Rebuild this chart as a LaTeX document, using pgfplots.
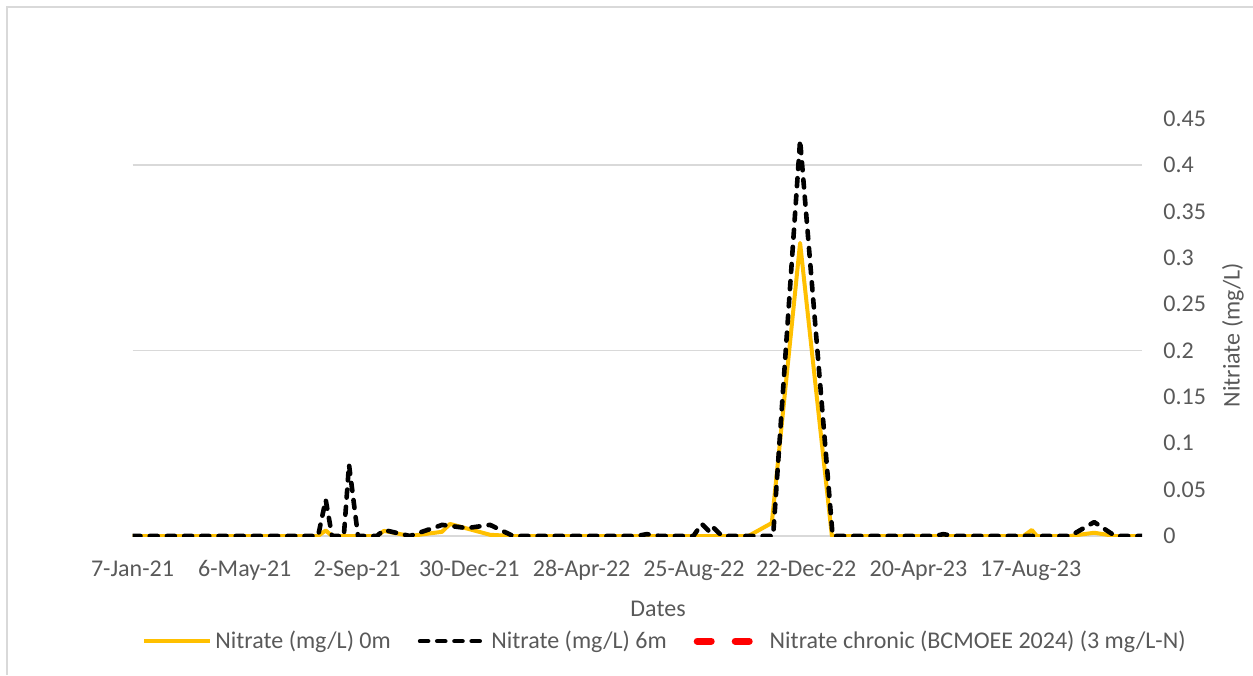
\documentclass[border=0pt]{standalone}
\usepackage{fontspec}
\setmainfont{Carlito}
\usepackage{pgfplots}
\usepackage{pgfplotstable}
\pgfplotsset{compat=1.18}
\definecolor{gold}{HTML}{FFC000}
\definecolor{lblgray}{HTML}{595959}
\definecolor{gridgray}{HTML}{D9D9D9}
\newcommand{\cf}{\fontsize{12}{14}\selectfont}

\pgfplotstableread{
d v
0 0
30 0
60 0
90 0
120 0
150 0
180 0
196.7 0
204.8 0.006
211.5 0
239 0
259 0
266.6 0.0055
294 0
328 0.0045
336.6 0.013
379 0.0013
403 0
450 0
500 0
545 0
600 0
652.8 0
677.6 0.014
707.6 0.316
741.3 0
800 0
859.5 0
900 0
944.3 0
953.2 0.0065
958.5 0
993.8 0
1019.3 0.0035
1041.5 0
1069.9 0
}\surf

\pgfplotstableread{
d v
0 0
30 0
60 0
90 0
120 0
150 0
180 0
196.7 0
204.8 0.039
211.5 0
224 0
229.5 0.077
239 0
259 0
266.6 0.0065
294 0
328.2 0.012
354.6 0.0085
379 0.012
403.4 0
450 0
500 0
534.5 0
545 0.002
559 0
594.5 0
603.4 0.013
612.2 0.004
615.7 0.009
624.9 0
652.8 0
679 0
707.6 0.427
742.1 0
800 0
850 0
859.5 0.002
870 0
944.3 0
993.8 0
1019.3 0.015
1041.5 0
1069.9 0
}\deep

\pgfplotstableread{
d v
0 3
1069.9 3
}\chronic

\begin{document}
\begin{tikzpicture}[x=1pt,y=1pt]
\useasboundingbox (0,0) rectangle (626.5,337.5);
\draw[gridgray, line width=1pt] (3.5,0) -- (3.5,334) -- (627,334);
\begin{axis}[
  at={(66.25pt,69.5pt)}, anchor=south west,
  scale only axis, width=504.75pt, height=208.7pt,
  xmin=0, xmax=1070, ymin=0, ymax=0.45,
  axis line style={draw=none},
  major tick length=0pt,
  tick style={draw=none},
  xtick={0,119,238,357,476,595,714,833,952},
  xticklabels={7-Jan-21,6-May-21,2-Sep-21,30-Dec-21,28-Apr-22,25-Aug-22,22-Dec-22,20-Apr-23,17-Aug-23},
  ytick={0,0.05,0.1,0.15,0.2,0.25,0.3,0.35,0.4,0.45},
  yticklabels={0,0.05,0.1,0.15,0.2,0.25,0.3,0.35,0.4,0.45},
  /pgf/number format/assume math mode=true,
  yticklabel pos=right,
  xticklabel style={font=\cf, text=lblgray, anchor=base, yshift=-20pt},
  yticklabel style={font=\cf, text=lblgray, anchor=west, inner sep=0pt, xshift=10.5pt},
  extra y ticks={0,0.2,0.4},
  extra y tick labels={},
  extra y tick style={grid=major, major grid style={gridgray, line width=0.9pt}},
  xlabel={Dates},
  xlabel style={font=\cf, text=lblgray, at={(axis description cs:0.5206,-0.1749)}, anchor=center},
  ylabel={Nitriate (mg/L)},
  ylabel style={font=\cf, text=lblgray, at={(axis description cs:1.0901,0.4815)}, anchor=center},
  legend style={at={(axis description cs:0.528,-0.252)}, anchor=center, draw=none, fill=none,
    legend columns=3, font=\cf, text=lblgray,
    /tikz/every even column/.append style={column sep=12pt},
    nodes={inner sep=1.5pt}},
  legend cell align=left,
  legend image code/.code={\draw[#1] (0pt,0pt) -- (33pt,0pt);},
]
\addplot[gold, line width=2pt, line join=round] table[x=d, y=v] {\surf};
\addlegendentry{Nitrate (mg/L) 0m}
\addplot[black, line width=2.3pt, line cap=round, line join=round, dash pattern=on 4pt off 4.6pt] table[x=d, y=v] {\deep};
\addlegendentry{Nitrate (mg/L) 6m}
\addplot[red, line width=3.5pt, line cap=round, dash pattern=on 7pt off 12pt] table[x=d, y=v] {\chronic};
\addlegendentry{Nitrate chronic (BCMOEE 2024) (3 mg/L-N)}
\end{axis}
\end{tikzpicture}
\end{document}
